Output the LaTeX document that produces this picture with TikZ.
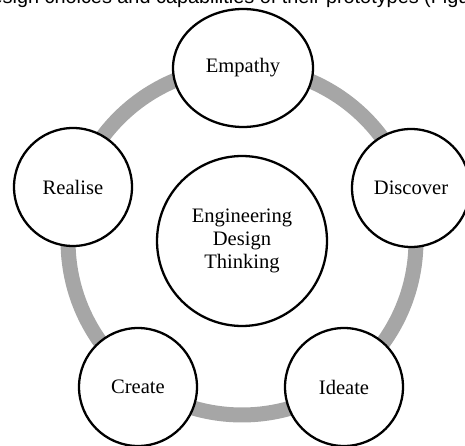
\documentclass[tikz,border=0pt]{standalone}
\usepackage{fontspec}
\setmainfont{Liberation Serif}
\newfontfamily\bodyfont{Liberation Sans}
\usetikzlibrary{shapes.geometric}
\definecolor{ringgray}{RGB}{166,166,166}
\tikzset{
    stage/.style={circle, draw=black, line width=1.3pt, fill=white, inner sep=0pt,
        minimum size=2.36cm, font=\fontsize{11.7}{12.9}\selectfont},
    hub/.style={stage, minimum size=3.4cm, align=center},
}
\begin{document}
\begin{tikzpicture}[x=0.02cm, y=-0.02cm]
    \def\R{3.48cm} % radius of the ring
    \useasboundingbox (0,0) rectangle (465,445);

    % cut line of text above the figure
    \node[anchor=base west, inner sep=0pt, font=\bodyfont\fontsize{11.3}{13}\selectfont] (textline) at (-23,4)
        {Design choices and capabilities of their prototypes (Figu};

    % Ring
    \coordinate (mid) at (242,241);
    \draw[ringgray, line width=0.3cm] (mid) circle[radius=\R];

    % Centre
    \node[hub] (hub) at (mid) {Engineering\\Design\\Thinking};

    % Stages round the ring
    \node[stage, ellipse, minimum width=2.8cm, minimum height=2.36cm] (empathy) at (243,68) {Empathy};
    \node[stage] (discover) at (411,188) {Discover};
    \node[stage] (ideate) at (344,387) {Ideate};
    \node[stage] (create) at (138,387) {Create};
    \node[stage] (realise) at (73,187) {Realise};
\end{tikzpicture}
\end{document}
